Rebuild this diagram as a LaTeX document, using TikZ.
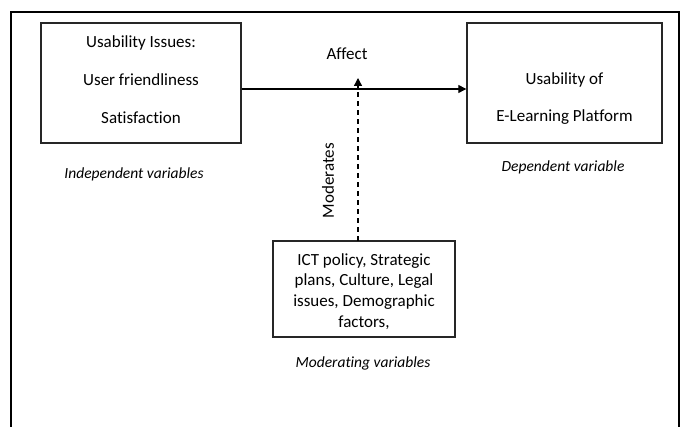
\documentclass[tikz,border=0pt]{standalone}
\usepackage{fontspec}
\setmainfont[Ligatures=NoCommon]{Carlito}
\usetikzlibrary{arrows.meta,calc}
\begin{document}
\begin{tikzpicture}[x=1pt,y=-1pt,
  boxshape/.style={draw=black!85, line width=1.4pt, inner sep=0pt},
  txt/.style={font=\fontsize{17}{20.7}\selectfont, align=center, inner sep=0pt},
  lbl/.style={font=\fontsize{15.5}{19}\selectfont\itshape, align=center, inner sep=0pt},
  arr/.style={line width=1.3pt, -{Triangle[length=8pt,width=8pt]}}
]
\useasboundingbox (0,0) rectangle (684,427);
% outer frame (no bottom edge)
\draw[line width=1.8pt] (11,427) -- (11,12) -- (679,12) -- (679,427);
% boxes
\node[boxshape, minimum width=200, minimum height=120] (ind) at (141,83) {};
\node[txt] (indtxt) at (141,80) {Usability Issues:\\[17.3pt]User friendliness\\[17.3pt]Satisfaction};
\node[boxshape, minimum width=195, minimum height=120] (dep) at (564.5,83) {};
\node[txt] (deptxt) at (564.5,98.5) {Usability of\\[16.3pt]E-Learning Platform};
\node[boxshape, minimum width=182, minimum height=96] (mod) at (364,289) {};
\node[txt] (modtxt) at (364,291.5) {ICT policy, Strategic\\plans, Culture, Legal\\issues, Demographic\\factors,};
% labels
\node[lbl] (indlbl) at (134,174) {Independent variables};
\node[lbl] (deplbl) at (563,167) {Dependent variable};
\node[lbl] (modlbl) at (363,363) {Moderating variables};
\node[txt] (affect) at (347,54) {Affect};
\node[txt, rotate=90] (moderates) at (328,180.5) {Moderates};
% connectors
\coordinate (a1) at ($(ind.east)+(0,6)$);
\coordinate (a2) at ($(dep.west)+(0,6)$);
\draw[arr] (a1) -- (a2);
\coordinate (m1) at (358,241);
\coordinate (m2) at (358,78);
\draw[arr, dash pattern=on 5pt off 4pt] (m1) -- (m2);
\end{tikzpicture}
\end{document}
